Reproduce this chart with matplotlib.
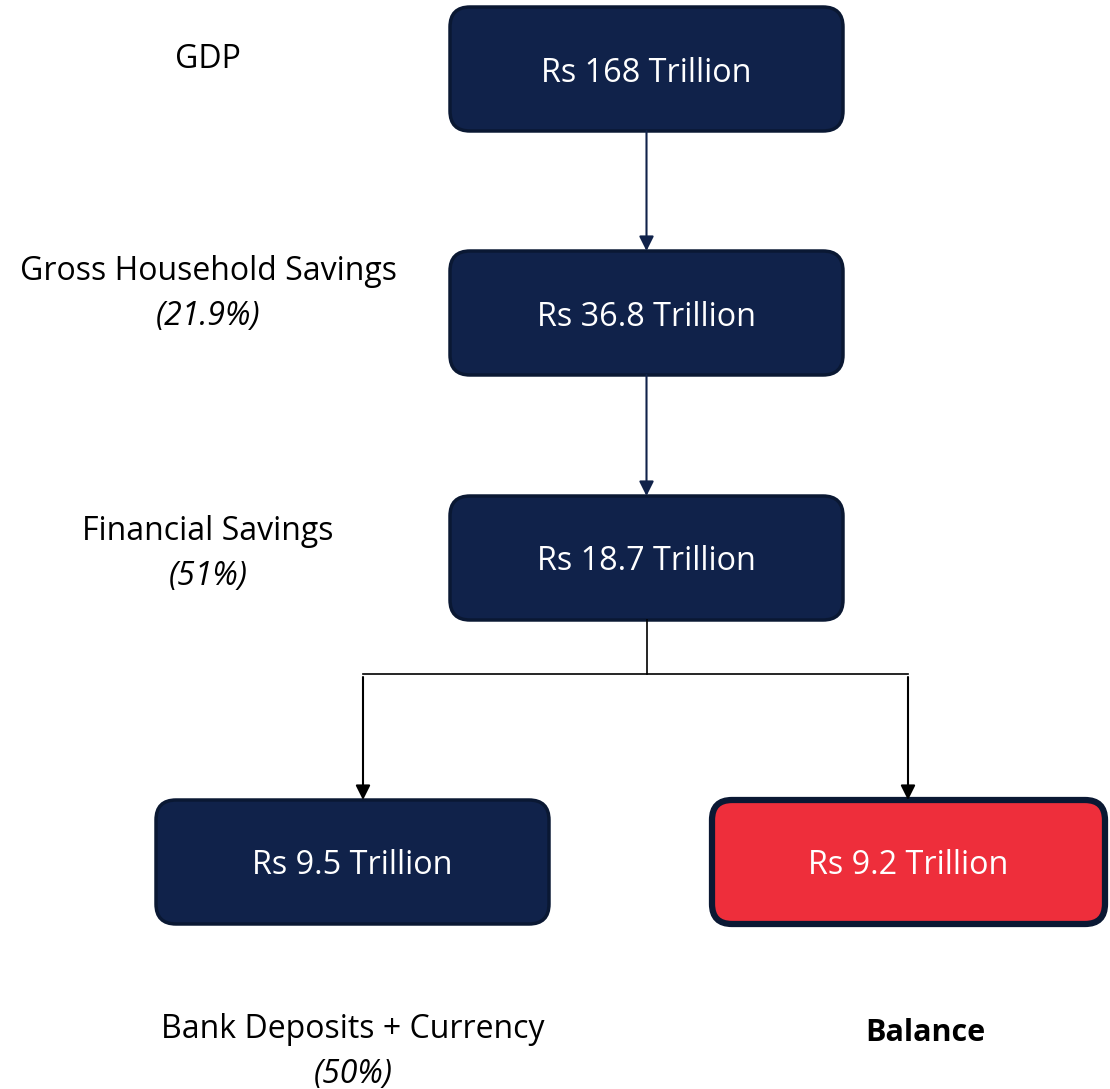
import matplotlib.pyplot as plt
from matplotlib.patches import FancyBboxPatch

plt.rcParams['font.family'] = ['Open Sans', 'DejaVu Sans']

# box values
box_labels = ['Rs 168 Trillion', 'Rs 36.8 Trillion', 'Rs 18.7 Trillion', 'Rs 9.5 Trillion', 'Rs 9.2 Trillion']
# left side captions
captions = ['GDP', 'Gross Household Savings', 'Financial Savings', 'Bank Deposits + Currency', 'Balance']
shares = ['', '(21.9%)', '(51%)', '(50%)', '']

navy = '#10224a'
navy_edge = '#0a1833'
red = '#ee2e3b'

fig = plt.figure(figsize=(11.1, 10.89), dpi=100)
ax = fig.add_axes([0, 0, 1, 1])
ax.set_xlim(0, 1110)
ax.set_ylim(1089, 0)
ax.axis('off')

# box layout (x, y top-left, w, h) in pixels
boxes = [(450, 7), (450, 251), (450, 496), (156, 800), (712, 800)]
w, h = 393, 124
fills = [navy, navy, navy, navy, red]
lws = [2.5, 2.5, 2.5, 2.5, 4.5]

for (x, y), lab, fc, lw in zip(boxes, box_labels, fills, lws):
    p = FancyBboxPatch((x + 20, y + 20), w - 40, h - 40,
                       boxstyle='round,pad=20', fc=fc, ec=navy_edge, lw=lw)
    ax.add_patch(p)
    ax.text(x + w / 2, y + h / 2 + 4, lab, color='white', fontsize=23.3,
            ha='center', va='center')

# arrows between the stacked boxes
cx = 450 + w / 2
for i in range(2):
    ax.annotate('', xy=(cx, boxes[i + 1][1]), xytext=(cx, boxes[i][1] + h),
                arrowprops=dict(arrowstyle='-|>', color=navy, lw=1.5, mutation_scale=22,
                                shrinkA=0, shrinkB=0))

# split connector
split_y = 674
lx, rx = 363, 908
ax.plot([cx, cx], [boxes[2][1] + h, split_y], color='black', lw=1.2)
ax.plot([lx, rx], [split_y, split_y], color='black', lw=1.2)
for xx in [lx, rx]:
    ax.annotate('', xy=(xx, 800), xytext=(xx, split_y + 3),
                arrowprops=dict(arrowstyle='-|>', color='black', lw=1.5, mutation_scale=22,
                                shrinkA=0, shrinkB=0))

# captions
cap_pos = [(208, 60), (208, 271), (208, 532), (353, 1029), (925, 1033)]
for (x, y), c, s in zip(cap_pos, captions, shares):
    if c == 'Balance':
        ax.text(x, y, c, fontsize=22, ha='center', va='center', color='black', fontweight='bold')
    else:
        ax.text(x, y, c, fontsize=23, ha='center', va='center', color='black')
    if s:
        ax.text(x, y + 45, s, fontsize=23, ha='center', va='center', style='italic', color='black')

plt.savefig('out.png', dpi=100)
